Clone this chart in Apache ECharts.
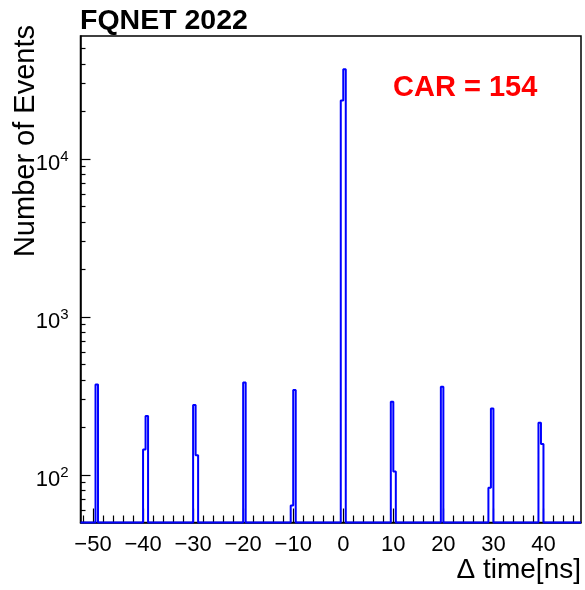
<!DOCTYPE html>
<html>
<head>
<meta charset="utf-8">
<script src="https://cdn.jsdelivr.net/npm/echarts@6/dist/echarts.min.js"></script>
<style>
html,body{margin:0;padding:0;background:#fff;}
#c{width:585px;height:590px;}
</style>
</head>
<body>
<div id="c"></div>
<script>
// Histogram definition (bin width 0.5 ns)
const histMin = -52.5;
const histMax = 47.5;
const binWidth = 0.5;
// Non-empty bins: lower edge of bin and its content
const binLow = [-49.5, -40, -39.5, -30, -29.5, -20, -10.5, -10, -0.5, 0, 9.5, 10, 19.5, 29, 29.5, 39, 39.5];
const counts = [373, 145, 236, 277, 133, 385, 64, 345, 23400, 36900, 291, 105, 361, 83, 263, 214, 157];
// Axis ticks and labels
const xMajorTicks = [-50, -40, -30, -20, -10, 0, 10, 20, 30, 40];
const xMinorTicks = [-52, -48, -46, -44, -42, -38, -36, -34, -32, -28, -26, -24, -22, -18, -16, -14, -12, -8, -6, -4, -2, 2, 4, 6, 8, 12, 14, 16, 18, 22, 24, 26, 28, 32, 34, 36, 38, 42, 44, 46];
const yMajorTicks = [100, 1000, 10000];
const yMinorTicks = [50, 60, 70, 80, 90, 200, 300, 400, 500, 600, 700, 800, 900, 2000, 3000, 4000, 5000, 6000, 7000, 8000, 9000, 20000, 30000, 40000, 50000];
const yMin = 50;
const yMax = 60000;

// build step data from bins
const nBins = Math.round((histMax - histMin) / binWidth);
const content = new Array(nBins).fill(0);
binLow.forEach((lo, i) => {
  const idx = Math.round((lo - histMin) / binWidth);
  content[idx] = counts[i];
});
const stepData = [];
for (let i = 0; i < nBins; i++) {
  stepData.push([histMin + i * binWidth, Math.max(content[i], yMin)]);
}
stepData.push([histMax, Math.max(content[nBins - 1], yMin)]);

const FONT = '"Liberation Sans", Arial, Helvetica, sans-serif';
const chart = echarts.init(document.getElementById('c'), null, {renderer: 'canvas'});
const gridL = 80.5, gridT = 36, gridR = 4, gridB = 67.5;

const option = {
  backgroundColor: '#fff',
  animation: false,
  grid: {left: gridL, top: gridT, right: gridR, bottom: gridB, show: true, borderColor: '#000', borderWidth: 1.5, backgroundColor: 'transparent'},
  xAxis: [
    {
      type: 'value', min: histMin, max: histMax,
      axisLine: {show: true, onZero: false, lineStyle: {color: '#000', width: 1.5}},
      splitLine: {show: false},
      axisTick: {show: true, inside: true, length: 14, lineStyle: {color: '#000', width: 1.2}, customValues: xMajorTicks},
      axisLabel: {show: true, margin: 11, fontFamily: FONT, fontSize: 22, color: '#000',
        customValues: xMajorTicks,
        formatter: v => (v < 0 ? '\u2212' + Math.abs(v) : String(v))}
    },
    {
      type: 'value', min: histMin, max: histMax, position: 'bottom', gridIndex: 0,
      axisLine: {show: false, onZero: false},
      splitLine: {show: false},
      axisTick: {show: true, inside: true, length: 7, lineStyle: {color: '#000', width: 1.2}, customValues: xMinorTicks},
      axisLabel: {show: false}
    }
  ],
  yAxis: [
    {
      type: 'log', logBase: 10, min: yMin, max: yMax,
      axisLine: {show: true, onZero: false, lineStyle: {color: '#000', width: 1.5}},
      splitLine: {show: false},
      axisTick: {show: true, inside: true, length: 10, lineStyle: {color: '#000', width: 1.2}, customValues: yMajorTicks},
      axisLabel: {show: true, margin: 12, color: '#000', customValues: yMajorTicks,
        formatter: v => '{b|10}{s|' + Math.round(Math.log10(v)) + '}',
        rich: {
          b: {fontFamily: FONT, fontSize: 22, color: '#000', padding: [10, 0, 0, 0]},
          s: {fontFamily: FONT, fontSize: 15, color: '#000', padding: [0, 0, 4, 0]}
        }
      }
    },
    {
      type: 'log', logBase: 10, min: yMin, max: yMax, position: 'left', gridIndex: 0,
      axisLine: {show: false, onZero: false},
      splitLine: {show: false},
      axisTick: {show: true, inside: true, length: 5, lineStyle: {color: '#000', width: 1.2}, customValues: yMinorTicks},
      axisLabel: {show: false}
    }
  ],
  series: [
    {
      type: 'line', xAxisIndex: 0, yAxisIndex: 0,
      data: stepData, step: 'end', showSymbol: false, symbol: 'none',
      clip: false,
      lineStyle: {color: '#0000ff', width: 2},
      z: 1
    }
  ],
  graphic: [
    {type: 'text', left: 80, top: 7, style: {text: 'FQNET 2022', font: 'bold 28.5px ' + FONT, fill: '#000'}},
    {type: 'text', left: 393, top: 73, style: {text: 'CAR = 154', font: 'bold 29px ' + FONT, fill: '#ff0000'}},
    {type: 'text', right: 4, top: 556, style: {text: '\u0394 time[ns]', font: '28px ' + FONT, fill: '#000'}},
    {type: 'text', left: 11, top: 25, rotation: Math.PI / 2, originX: 0, originY: 0,
      style: {text: 'Number of Events', font: '29px ' + FONT, fill: '#000', align: 'right', verticalAlign: 'top'}}
  ]
};
chart.setOption(option);
</script>
</body>
</html>
